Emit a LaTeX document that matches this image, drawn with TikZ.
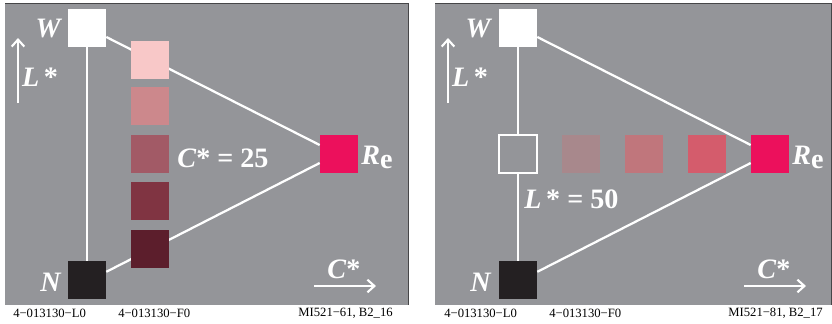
\documentclass[tikz,border=0pt]{standalone}
\usepackage{fontspec}
\setmainfont{Liberation Serif}
\usetikzlibrary{arrows, arrows.meta}

\definecolor{panelgray}{RGB}{148,149,153}
\definecolor{edgegray}{RGB}{70,70,72}
\definecolor{blackN}{RGB}{36,32,34}
\definecolor{redRe}{RGB}{236,16,92}
\definecolor{colA}{RGB}{248,200,200}
\definecolor{colB}{RGB}{204,136,140}
\definecolor{colC}{RGB}{162,90,102}
\definecolor{colD}{RGB}{128,52,66}
\definecolor{colE}{RGB}{92,30,44}
\definecolor{rowA}{RGB}{168,136,140}
\definecolor{rowB}{RGB}{192,118,124}
\definecolor{rowC}{RGB}{212,92,108}

\tikzset{
  patch/.style={rectangle, inner sep=0pt, minimum size=0.95cm},
  lbl/.style={white, inner sep=0pt, font=\bfseries\fontsize{20}{20}\selectfont},
  code/.style={inner sep=0pt, font=\fontsize{9}{9}\selectfont},
  wline/.style={white, line width=1.6pt},
  axis/.style={white, line width=1.6pt, -{Straight Barb[length=5pt, width=9pt, line width=1.5pt]}}
}

\begin{document}
\begin{tikzpicture}[x=0.025cm, y=-0.025cm]
  \useasboundingbox (0,0) rectangle (832,323);

  % left panel: C* = 25
  \fill[panelgray] (5,3) rectangle (408,305);
  \draw[edgegray, line width=0.5pt] (5,3) -- (408,3) -- (408,305);

  \node[patch, fill=white] (w) at (87,28) {};
  \node[patch, fill=blackN] (n) at (87,280) {};
  \node[patch, fill=redRe] (re) at (339,154) {};

  \draw[wline] (w) -- (n);
  \draw[wline] (w.-25) -- (re.155);
  \draw[wline] (n.23) -- (re.205);

  \node[patch, fill=colA] (c1) at (150,60) {};
  \node[patch, fill=colB] (c2) at (150,106) {};
  \node[patch, fill=colC] (c3) at (150,154) {};
  \node[patch, fill=colD] (c4) at (150,201) {};
  \node[patch, fill=colE] (c5) at (150,249) {};

  \node[lbl] (wlab) at (49,29) {\textit{W}};
  \node[lbl] (nlab) at (51,282) {\textit{N}};
  \node[lbl, anchor=west] (relab) at (361,157) {\textit{R}\raisebox{-0.3ex}{e}};
  \node[lbl, anchor=west] (cval) at (177,158) {\textit{C}* = 25};

  \coordinate (lbot) at (18,103);
  \coordinate (ltop) at (18,38);
  \draw[axis] (lbot) -- (ltop);
  \node[lbl] (llab) at (40,77) {\textit{L}\,*};
  \coordinate (cleft) at (314,286);
  \coordinate (cright) at (376,286);
  \draw[axis] (cleft) -- (cright);
  \node[lbl] (clab) at (344,269) {\textit{C}*};

  \node[code, anchor=west] (ca) at (13,313) {4−013130−L0};
  \node[code, anchor=west] (cb) at (118,313) {4−013130−F0};
  \node[code, anchor=east] (cc) at (393,313) {MI521−61, B2\_16};

  % right panel: L* = 50
  \fill[panelgray] (435,3) rectangle (831,305);
  \draw[edgegray, line width=0.5pt] (435,3) -- (831,3) -- (831,305);

  \node[patch, fill=white] (w2) at (518,28) {};
  \node[patch, fill=blackN] (n2) at (518,280) {};
  \node[patch, fill=redRe] (re2) at (770,154) {};

  \draw[wline] (w2) -- (n2);
  \draw[wline] (w2.-25) -- (re2.155);
  \draw[wline] (n2.23) -- (re2.205);

  \node[patch, fill=panelgray, draw=white, line width=1.6pt] (g2) at (518,154) {};
  \node[patch, fill=rowA] (r1) at (581,154) {};
  \node[patch, fill=rowB] (r2) at (644,154) {};
  \node[patch, fill=rowC] (r3) at (707,154) {};

  \node[lbl] (wlab2) at (479,29) {\textit{W}};
  \node[lbl] (nlab2) at (481,282) {\textit{N}};
  \node[lbl, anchor=west] (relab2) at (792,157) {\textit{R}\raisebox{-0.3ex}{e}};
  \node[lbl, anchor=west] (lval) at (524,199) {\textit{L}\,* = 50};

  \coordinate (lbot2) at (448,103);
  \coordinate (ltop2) at (448,38);
  \draw[axis] (lbot2) -- (ltop2);
  \node[lbl] (llab2) at (470,77) {\textit{L}\,*};
  \coordinate (cleft2) at (744,286);
  \coordinate (cright2) at (806,286);
  \draw[axis] (cleft2) -- (cright2);
  \node[lbl] (clab2) at (774,269) {\textit{C}*};

  \node[code, anchor=west] (cd) at (444,313) {4−013130−L0};
  \node[code, anchor=west] (ce) at (549,313) {4−013130−F0};
  \node[code, anchor=east] (cf) at (823,313) {MI521−81, B2\_17};
\end{tikzpicture}
\end{document}
